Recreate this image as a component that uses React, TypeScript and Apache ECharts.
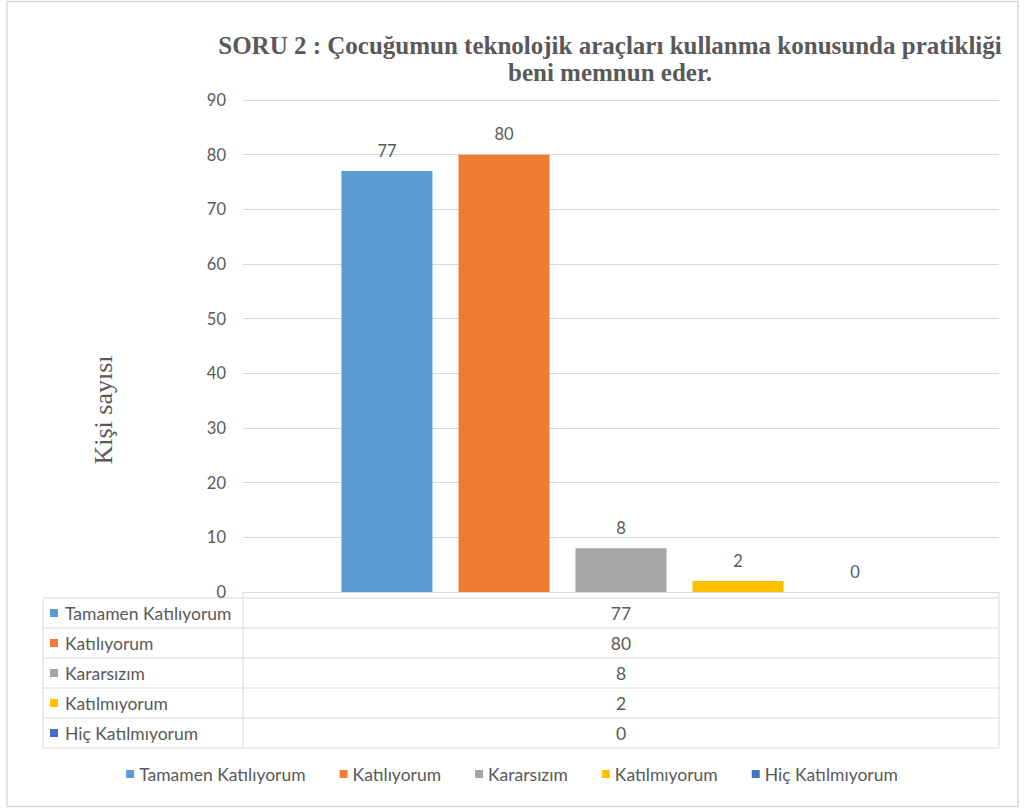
import React, { useEffect, useRef } from "react";
import * as echarts from "echarts";

const titleLines = [
  "SORU 2 : Çocuğumun teknolojik araçları kullanma konusunda pratikliği",
  "beni memnun eder.",
];
const yAxisName = "Kişi sayısı";
const categories = [""];
const seriesNames = [
  "Tamamen Katılıyorum",
  "Katılıyorum",
  "Kararsızım",
  "Katılmıyorum",
  "Hiç Katılmıyorum",
];
const seriesValues = [77, 80, 8, 2, 0];
const seriesColors = ["#5B9BD5", "#ED7D31", "#A5A5A5", "#FFC000", "#4472C4"];
const yMin = 0;
const yMax = 90;
const yInterval = 10;

const W = 1024;
const H = 809;
const gridLeft = 243;
const gridRight = 999;
const gridTop = 100;
const gridBottom = 592;
const tableLeft = 43;
const tableTop = 598;
const rowH = 30;
const lineColor = "#D9D9D9";
const textColor = "#595959";
const sansFont = "Lato, 'Open Sans', sans-serif";
const serifFont = "'Liberation Serif', 'DejaVu Serif', serif";
const fs = 17.5;

export default function App() {
  const ref = useRef<HTMLDivElement>(null);
  useEffect(() => {
    if (!ref.current) return;
    const chart = echarts.init(ref.current, null, { renderer: "svg", width: W, height: H });

    const tableBottom = tableTop + rowH * seriesNames.length;
    const graphics: any[] = [];
    graphics.push({
      type: "rect",
      shape: { x: 7, y: 1.5, width: 1011, height: 805 },
      style: { fill: "none", stroke: lineColor, lineWidth: 1.5 },
      z: -1,
    });
    for (let i = 0; i <= seriesNames.length; i++) {
      const y = tableTop + i * rowH;
      graphics.push({
        type: "line",
        shape: { x1: tableLeft, y1: y, x2: gridRight, y2: y },
        style: { stroke: lineColor, lineWidth: 1 },
      });
    }
    graphics.push({
      type: "line",
      shape: { x1: tableLeft, y1: tableTop, x2: tableLeft, y2: tableBottom },
      style: { stroke: lineColor, lineWidth: 1 },
    });
    graphics.push({
      type: "line",
      shape: { x1: gridLeft, y1: gridBottom, x2: gridLeft, y2: tableBottom },
      style: { stroke: lineColor, lineWidth: 1 },
    });
    graphics.push({
      type: "line",
      shape: { x1: gridRight, y1: gridBottom, x2: gridRight, y2: tableBottom },
      style: { stroke: lineColor, lineWidth: 1 },
    });
    seriesNames.forEach((name, i) => {
      const cy = tableTop + i * rowH + rowH / 2;
      graphics.push({
        type: "rect",
        shape: { x: 50, y: cy - 4, width: 8, height: 8 },
        style: { fill: seriesColors[i] },
      });
      graphics.push({
        type: "text",
        x: 65,
        y: cy,
        style: {
          text: name,
          fill: textColor,
          font: `${fs}px ${sansFont}`,
          textAlign: "left",
          textVerticalAlign: "middle",
        },
      });
      graphics.push({
        type: "text",
        x: (gridLeft + gridRight) / 2,
        y: cy,
        style: {
          text: String(seriesValues[i]),
          fill: textColor,
          font: `${fs}px ${sansFont}`,
          textAlign: "center",
          textVerticalAlign: "middle",
        },
      });
    });
    titleLines.forEach((t, i) => {
      graphics.push({
        type: "text",
        x: 610,
        y: 45 + i * 27,
        style: {
          text: t,
          fill: textColor,
          font: `bold 25px ${serifFont}`,
          textAlign: "center",
          textVerticalAlign: "middle",
        },
      });
    });
    graphics.push({
      type: "text",
      x: 103,
      y: 410,
      rotation: Math.PI / 2,
      style: {
        text: yAxisName,
        fill: textColor,
        font: `26px ${serifFont}`,
        textAlign: "center",
        textVerticalAlign: "middle",
      },
    });

    chart.setOption({
      animation: false,
      backgroundColor: "#ffffff",
      grid: {
        left: gridLeft,
        right: W - gridRight,
        top: gridTop,
        bottom: H - gridBottom,
        containLabel: false,
      },
      legend: {
        bottom: 21,
        left: "center",
        itemWidth: 8,
        itemHeight: 8,
        itemGap: 34,
        icon: "rect",
        textStyle: { color: textColor, fontSize: fs, fontFamily: sansFont },
        data: seriesNames,
      },
      xAxis: {
        type: "category",
        data: categories,
        axisLine: { show: true, lineStyle: { color: lineColor } },
        axisTick: { show: false },
        axisLabel: { show: false },
      },
      yAxis: {
        type: "value",
        min: yMin,
        max: yMax,
        interval: yInterval,
        axisLine: { show: false },
        axisTick: { show: false },
        axisLabel: { color: textColor, fontSize: 16.5, fontFamily: sansFont, margin: 17 },
        splitLine: { lineStyle: { color: lineColor, width: 1 } },
      },
      graphic: graphics,
      series: seriesNames.map((name, i) => ({
        type: "bar",
        name,
        data: [seriesValues[i]],
        barWidth: 91,
        barGap: "28.6%",
        itemStyle: { color: seriesColors[i] },
        label: {
          show: true,
          position: "top",
          distance: 12,
          color: textColor,
          fontSize: 16.5,
          fontFamily: sansFont,
        },
      })),
    });
    return () => chart.dispose();
  }, []);
  return (
    <div
      ref={ref}
      style={{ position: "fixed", left: 0, top: 0, width: W, height: H, background: "#fff" }}
    />
  );
}
